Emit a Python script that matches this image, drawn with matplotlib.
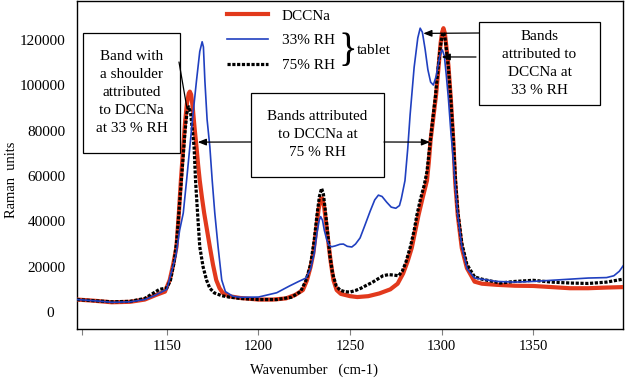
import numpy as np
import matplotlib
matplotlib.use('Agg')
import matplotlib.pyplot as plt
from matplotlib.patches import Rectangle

plt.rcParams['font.family'] = ['Liberation Serif', 'DejaVu Serif']

# DCCNa (red)
wn_dccna = [1101, 1110, 1120, 1130, 1138, 1144, 1149, 1151.6, 1153.5, 1155.3, 1156.6, 1157.7,
            1159, 1160, 1161, 1162, 1162.6, 1163.3, 1164.2, 1165.2, 1166.2, 1167.1, 1168,
            1169.2, 1170.4, 1172, 1173.5, 1175.2, 1177, 1178.8, 1180.6, 1184, 1190, 1200,
            1208, 1215, 1220, 1224.3, 1226.5, 1228.5, 1230, 1231.5, 1232.8, 1234, 1234.8,
            1235.8, 1237, 1238.3, 1239.5, 1241, 1242.7, 1245, 1250, 1254, 1260, 1266, 1272,
            1276, 1279, 1281.5, 1283.7, 1287.4, 1289.6, 1292, 1293, 1294, 1295.5, 1297, 1298.2,
            1299.5, 1300.3, 1301, 1301.8, 1302.6, 1303.7, 1305, 1306.4, 1307.4, 1308.8,
            1311, 1313.8, 1318, 1322, 1330, 1340, 1350, 1360, 1370, 1380, 1390, 1399]
int_dccna = [5500, 5000, 4300, 4500, 5500, 7500, 9000, 14100, 21000, 28800, 43700, 58000,
             73000, 84000, 92000, 96500, 97300, 96000, 90000, 81000, 73000, 65000, 58000,
             50500, 43700, 36000, 28800, 21000, 14100, 10500, 8400, 7000, 6200, 5500,
             5500, 6000, 7500, 9700, 14000, 20000, 26000, 36000, 45000, 50000, 50200,
             47000, 39000, 30000, 22000, 14000, 9700, 8000, 7000, 6600, 7000, 8200, 10000,
             12500, 17000, 22500, 28300, 42800, 50300, 58000, 66000, 76000, 86000, 96000, 107000,
             119000, 123500, 125300, 123000, 117000, 109000, 94300, 75200, 57500, 42800,
             28300, 19400, 13400, 12500, 12000, 11600, 11500, 11000, 10500, 10500, 10800,
             11000]

# tablet, 33% RH (blue)
wn_rh33 = [1101, 1110, 1120, 1130, 1138, 1144, 1150, 1155, 1157, 1159, 1160.8, 1162.6,
           1164.4, 1166.2, 1168, 1169.3, 1170, 1170.8, 1172, 1173.5, 1174.8, 1176.2, 1178,
           1180, 1182, 1186, 1190, 1200, 1210, 1217, 1222, 1226, 1228.5, 1230.5, 1232,
           1233.2, 1234, 1235, 1236, 1237.3, 1238.5, 1240, 1242, 1244.5, 1246.4, 1248.5,
           1251, 1253, 1255.5, 1258, 1261, 1263.5, 1265.5, 1267.5, 1270, 1272.5, 1275, 1277,
           1278, 1280, 1281.5, 1282.8, 1285, 1287, 1288.3, 1289.5, 1291, 1292.5, 1294,
           1295.5, 1297, 1298.5, 1299.5, 1300.4, 1301.5, 1302.5, 1303.7, 1305, 1306.4,
           1307.4, 1308.8, 1311, 1314, 1318, 1322, 1330, 1340, 1350, 1360, 1370, 1380,
           1390, 1394, 1397, 1399]
int_rh33 = [5500, 5000, 4300, 4500, 5500, 7500, 10000, 25000, 36000, 43700, 58000, 73000,
            88000, 102000, 115000, 119300, 117000, 102000, 85000, 73000, 58000, 43700, 28800,
            14100, 9000, 7000, 6500, 6600, 8500, 11500, 13500, 15000, 19000, 26000, 35000,
            40500, 42100, 40500, 36000, 32000, 29500, 28800, 29200, 29900, 30000, 29000,
            28700, 30000, 32700, 38000, 44500, 49500, 51600, 51000, 48500, 46300, 45800,
            47000, 50000, 58000, 72000, 87000, 108000, 121000, 125300, 123500, 116000,
            107000, 101500, 100200, 104000, 111000, 114500, 115700, 113000, 105000, 94300,
            80000, 67000, 56000, 43000, 29000, 19000, 15000, 14500, 13500, 13200, 13500,
            14000, 14500, 15000, 15200, 16000, 18000, 20300]

# tablet, 75% RH (black)
wn_rh75 = [1101, 1110, 1120, 1130, 1138, 1142, 1146, 1150, 1152, 1154, 1155.5, 1157, 1158.5,
           1160, 1161, 1162, 1163, 1164, 1164.9, 1165.7, 1166.8, 1168, 1169.8, 1171.7,
           1173.5, 1176, 1180, 1184, 1190, 1200, 1210, 1218, 1223, 1226, 1228.5, 1230.5,
           1232, 1233.3, 1234.5, 1235.5, 1236.5, 1237.8, 1239, 1240.5, 1242.5, 1244.5, 1247,
           1250, 1253, 1256, 1259, 1262, 1265, 1268, 1271, 1274, 1276.5, 1278.5, 1280.5,
           1283, 1285, 1286.5, 1288.5, 1290.5, 1292, 1293.5, 1295, 1296.6, 1298, 1299.3,
           1300.3, 1301, 1301.8, 1302.6, 1303.7, 1305, 1306.4, 1307.5, 1308.8, 1311,
           1313.8, 1318, 1322, 1332, 1340, 1350, 1360, 1370, 1380, 1390, 1399]
int_rh75 = [5500, 5000, 4500, 4700, 6000, 8000, 10000, 10600, 14000, 22000, 32000, 48000,
            64000, 80000, 88000, 90600, 88000, 80000, 73000, 58000, 43700, 28800, 20000,
            14100, 10500, 8400, 7200, 6600, 6000, 5500, 5500, 6500, 9000, 14000, 21000,
            32000, 43000, 51000, 54600, 52000, 45000, 35000, 25000, 17000, 11500, 9700,
            9000, 8800, 9500, 10500, 11800, 13000, 14500, 16000, 16500, 16300, 16000, 18000,
            22000, 29000, 36000, 42800, 50000, 56000, 62000, 73000, 84000, 95000, 107000,
            117000, 122000, 123500, 121500, 116000, 108000, 94000, 76000, 59000, 44500,
            30500, 21000, 15500, 14500, 12800, 13500, 14000, 13200, 12800, 12600, 13200,
            14500]

xtick_vals = [1104, 1150, 1200, 1250, 1300, 1350]
xtick_labels = ['', '1150', '1200', '1250', '1300', '1350']
ytick_vals = [0, 20000, 40000, 60000, 80000, 100000, 120000]
ytick_labels = ['0   ', '20000', '40000', '60000', '80000', '100000', '120000']

fig = plt.figure(figsize=(6.27, 3.82), dpi=100)
ax = fig.add_axes([77 / 627, 53 / 382, 546 / 627, 328 / 382])

ax.plot(wn_dccna, int_dccna, color='#e2391c', lw=3.0, label='DCCNa', zorder=3)
ax.plot(wn_rh75, int_rh75, color='black', lw=2.3, dashes=(1.0, 0.5), label='75% RH', zorder=4)
ax.plot(wn_rh33, int_rh33, color='#2040c0', lw=1.2, label='33% RH', zorder=5)

ax.set_xlim(1101, 1399)
ax.set_ylim(-7500, 137300)
ax.set_xticks(xtick_vals)
ax.set_xticklabels(xtick_labels)
ax.set_yticks(ytick_vals)
ax.set_yticklabels(ytick_labels)
ax.tick_params(axis='x', direction='out', length=4, color='gray', labelsize=10.5, pad=4)
ax.tick_params(axis='y', length=0, labelsize=11, pad=8)
for s in ax.spines.values():
    s.set_linewidth(1.0)
    s.set_color('black')

fig.text(314 / 627, 1 - 370 / 382, 'Wavenumber   (cm-1)', ha='center', va='center', fontsize=10.5)
fig.text(12 / 627, 1 - 180 / 382, 'Raman  units', ha='center', va='center',
         rotation=90, fontsize=10.5)

# legend
h, l = ax.get_legend_handles_labels()
order = [0, 2, 1]
ax.legend([h[i] for i in order], [l[i] for i in order], loc='upper left',
          bbox_to_anchor=((227 - 77) / 546, (329 - 9) / 328), frameon=False,
          borderpad=0, borderaxespad=0, handlelength=2.7, handletextpad=0.9,
          labelspacing=0.72, fontsize=11)
ax.text((338 - 77) / 546, (329 - 52) / 328, '}', transform=ax.transAxes, fontsize=28,
        ha='left', va='center', fontweight='light')
ax.text((357 - 77) / 546, (329 - 51) / 328, 'tablet', transform=ax.transAxes,
        fontsize=11, ha='left', va='center')

# annotation boxes (pixel extents of the original picture)
def px_box(x0, x1, y0, y1, txt):
    fx0 = (x0 - 77) / 546
    fx1 = (x1 - 77) / 546
    fy0 = (329 - y1) / 328
    fy1 = (329 - y0) / 328
    ax.add_patch(Rectangle((fx0, fy0), fx1 - fx0, fy1 - fy0, transform=ax.transAxes,
                           facecolor='white', edgecolor='black', lw=0.9, zorder=6))
    ax.text((fx0 + fx1) / 2, (fy0 + fy1) / 2, txt, transform=ax.transAxes, ha='center',
            va='center', fontsize=11, linespacing=1.5, zorder=7)

def px_arrow(px, py, tip, head=True):
    ax.annotate('', xy=tip, xycoords='data',
                xytext=((px - 77) / 546, (329 - py) / 328), textcoords='axes fraction',
                arrowprops=dict(arrowstyle='-|>,head_length=0.5,head_width=0.2' if head else '-',
                                color='black', lw=0.9, shrinkA=0, shrinkB=0), zorder=6)

px_box(83, 180, 33, 153, 'Band with\na shoulder\nattributed\nto DCCNa\nat 33 % RH')
px_box(251, 384, 93, 177, 'Bands attributed\nto DCCNa at\n75 % RH')
px_box(479, 600, 22, 105, 'Bands\nattributed to\nDCCNa at\n33 % RH')

px_arrow(179, 62, (1161.0, 90000), head=False)
px_arrow(251, 142, (1166.9, 75000))
px_arrow(384, 142, (1293.7, 75000))
px_arrow(479, 33, (1290.0, 123000))
px_arrow(476, 57, (1300.0, 112600))

fig.savefig('out.png', dpi=100)
